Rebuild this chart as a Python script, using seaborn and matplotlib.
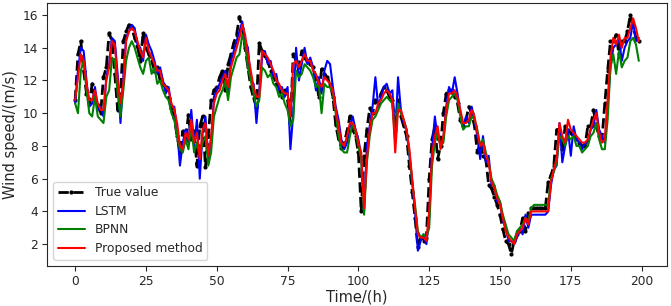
import matplotlib
matplotlib.use("Agg")
import matplotlib.pyplot as plt
import numpy as np
import seaborn as sns

# hourly wind speed (m/s)
true_value = [
    10.8, 13.6, 14.4, 12.6, 11.2, 10.6, 11.8, 10.8, 10.5, 10.0,
    12.2, 12.8, 14.9, 14.4, 12.4, 10.2, 11.2, 14.4, 15.0, 15.4,
    15.2, 14.6, 14.1, 13.2, 14.9, 14.0, 13.6, 13.2, 12.6, 12.8,
    12.0, 11.8, 11.6, 10.9, 10.3, 9.7, 8.6, 7.6, 8.9, 8.4,
    9.9, 8.4, 8.9, 6.8, 9.2, 9.8, 6.7, 8.6, 10.8, 11.4,
    11.6, 12.2, 12.6, 11.4, 13.0, 13.6, 14.3, 14.8, 15.9, 15.2,
    14.0, 12.8, 11.6, 10.9, 10.4, 14.3, 13.8, 13.5, 13.2, 12.6,
    12.3, 11.8, 11.5, 11.0, 11.4, 10.8, 9.4, 13.6, 13.2, 12.8,
    13.8, 13.4, 13.2, 13.0, 12.8, 12.2, 11.0, 12.7, 12.4, 12.2,
    11.8, 11.0, 9.3, 8.4, 7.9, 8.2, 8.9, 9.8, 9.0, 8.6,
    7.6, 4.0, 7.4, 9.0, 10.3, 10.0, 10.8, 10.6, 11.2, 11.6,
    11.4, 11.0, 10.8, 9.0, 10.8, 9.8, 9.2, 8.6, 6.8, 5.2,
    3.6, 1.8, 2.4, 2.2, 2.4, 6.0, 8.4, 9.2, 7.2, 8.0,
    10.0, 11.2, 11.4, 11.4, 11.0, 10.6, 9.6, 9.2, 9.6, 10.4,
    10.0, 9.2, 7.6, 8.2, 7.4, 7.2, 5.6, 5.4, 4.9, 4.4,
    3.8, 2.9, 2.2, 2.0, 1.4, 2.2, 2.6, 2.8, 3.6, 2.8,
    3.9, 4.2, 4.2, 4.2, 4.2, 4.2, 4.2, 5.8, 6.2, 6.8,
    9.0, 9.0, 7.8, 9.2, 9.0, 8.8, 8.6, 8.4, 8.2, 8.0,
    8.0, 9.2, 9.2, 10.2, 9.2, 8.6, 8.4, 10.6, 12.6, 14.4,
    14.4, 14.8, 13.6, 14.4, 14.4, 15.0, 16.0, 15.3, 14.6, 14.4,
]

lstm = [
    10.6, 12.6, 14.0, 13.8, 12.0, 10.4, 10.6, 11.6, 10.2, 10.4,
    9.8, 12.2, 13.0, 14.6, 14.4, 12.4, 9.4, 12.2, 14.6, 15.0,
    15.4, 15.2, 14.2, 14.0, 13.2, 14.8, 14.2, 13.8, 13.2, 12.4,
    12.8, 12.0, 11.2, 11.6, 10.4, 10.4, 9.0, 6.8, 8.2, 9.0,
    8.2, 10.2, 8.0, 9.6, 6.0, 8.8, 9.8, 7.2, 8.2, 11.0,
    11.4, 11.8, 12.2, 12.6, 11.2, 13.2, 13.8, 14.4, 15.0, 15.6,
    14.4, 14.0, 12.0, 11.8, 9.4, 11.4, 13.4, 13.8, 13.0, 13.2,
    12.2, 12.4, 11.4, 11.6, 11.0, 11.6, 7.8, 10.0, 14.0, 12.0,
    13.0, 14.0, 13.0, 13.4, 12.8, 11.4, 12.2, 11.2, 12.6, 13.2,
    13.0, 11.6, 10.4, 9.6, 8.4, 7.8, 8.2, 9.2, 9.8, 9.0,
    8.4, 7.4, 4.0, 8.0, 9.2, 10.4, 12.2, 10.4, 11.0, 11.6,
    11.8, 11.2, 11.4, 8.6, 12.2, 10.2, 9.4, 9.0, 7.4, 5.8,
    4.0, 1.6, 2.2, 2.6, 2.0, 3.6, 7.8, 9.8, 8.4, 8.2,
    8.4, 10.4, 11.6, 11.2, 12.2, 11.2, 10.0, 9.2, 9.8, 9.4,
    10.4, 9.6, 8.6, 7.2, 8.6, 7.0, 7.4, 5.6, 5.6, 4.6,
    4.6, 3.4, 3.0, 2.2, 2.2, 2.0, 2.4, 3.0, 2.6, 3.8,
    3.0, 3.8, 3.8, 3.8, 3.8, 3.8, 3.8, 4.0, 5.6, 6.6,
    6.8, 9.4, 7.0, 8.0, 9.0, 7.4, 9.2, 8.4, 8.2, 7.8,
    8.2, 8.2, 9.0, 9.2, 10.2, 9.0, 8.6, 8.2, 10.4, 12.8,
    14.0, 14.2, 14.6, 13.2, 14.0, 14.4, 14.6, 15.6, 14.4, 14.6,
]

bpnn = [
    10.6, 10.0, 12.6, 13.2, 11.4, 10.0, 9.8, 11.0, 9.8, 9.6,
    9.4, 11.0, 11.4, 13.4, 13.2, 11.2, 9.8, 11.4, 13.2, 14.0,
    14.4, 14.0, 13.4, 12.8, 12.4, 13.2, 13.4, 12.4, 12.8, 11.8,
    12.0, 11.4, 11.0, 10.8, 10.0, 9.6, 8.6, 7.8, 7.6, 8.4,
    7.8, 9.2, 7.6, 8.2, 7.4, 8.2, 8.6, 6.8, 7.6, 9.8,
    10.4, 11.0, 11.4, 12.0, 10.8, 12.2, 12.8, 13.4, 13.6, 14.8,
    14.2, 12.8, 12.0, 11.2, 10.4, 10.8, 12.8, 12.6, 12.2, 12.4,
    11.8, 11.6, 11.0, 11.2, 10.6, 10.2, 9.2, 9.6, 12.6, 12.2,
    12.4, 13.0, 12.8, 12.6, 12.2, 11.6, 11.8, 10.0, 11.8, 11.6,
    11.6, 11.2, 10.0, 8.6, 7.8, 7.6, 7.6, 8.6, 9.4, 8.8,
    8.0, 7.2, 3.8, 7.0, 8.6, 9.6, 9.8, 10.2, 10.6, 10.8,
    11.0, 10.8, 10.6, 8.2, 10.6, 10.0, 9.6, 9.0, 7.6, 5.8,
    4.4, 2.8, 2.4, 2.6, 2.4, 3.0, 6.8, 8.2, 8.8, 8.0,
    8.2, 9.8, 10.8, 11.0, 11.2, 10.8, 9.8, 9.0, 9.2, 9.2,
    9.8, 9.6, 9.0, 8.0, 8.4, 7.6, 7.0, 6.0, 5.6, 5.0,
    4.6, 3.8, 3.2, 2.6, 2.4, 2.2, 2.8, 3.0, 3.2, 3.6,
    3.4, 4.2, 4.4, 4.4, 4.4, 4.4, 4.4, 4.4, 6.0, 6.4,
    7.0, 8.6, 8.4, 8.0, 8.6, 8.4, 8.6, 8.0, 8.0, 7.6,
    7.8, 8.0, 8.6, 8.8, 9.4, 8.4, 7.8, 7.8, 9.6, 12.8,
    13.6, 12.4, 13.8, 12.8, 13.2, 13.4, 14.4, 14.6, 14.2, 13.2,
]

proposed = [
    10.8, 12.2, 13.6, 13.2, 11.8, 10.8, 10.8, 11.4, 10.6, 10.2,
    10.2, 12.0, 12.8, 14.4, 14.2, 12.0, 10.6, 11.8, 14.4, 15.0,
    15.2, 15.0, 14.4, 13.8, 13.4, 14.6, 13.8, 13.4, 13.0, 12.6,
    12.6, 11.8, 11.6, 11.4, 10.6, 10.2, 9.4, 8.0, 7.8, 8.8,
    8.4, 9.6, 8.2, 8.8, 7.2, 9.0, 9.4, 7.4, 8.6, 10.6,
    11.2, 11.4, 12.0, 12.4, 11.6, 12.8, 13.4, 14.0, 14.6, 15.4,
    14.8, 13.6, 12.6, 11.6, 11.0, 11.0, 13.8, 13.6, 13.4, 13.0,
    12.6, 12.0, 11.8, 11.4, 11.2, 11.2, 9.8, 13.0, 13.2, 12.8,
    13.2, 13.6, 13.2, 13.2, 12.6, 12.4, 11.8, 11.6, 12.2, 12.0,
    11.8, 11.4, 10.2, 9.2, 8.2, 8.0, 8.6, 9.4, 9.4, 9.0,
    8.2, 7.6, 4.2, 7.2, 9.0, 10.0, 10.0, 10.6, 10.8, 11.2,
    11.4, 11.2, 10.8, 7.6, 10.2, 10.2, 9.6, 9.0, 7.8, 6.0,
    4.2, 2.6, 2.4, 2.4, 2.2, 4.0, 7.4, 8.6, 9.2, 7.8,
    8.6, 10.2, 11.2, 11.2, 11.4, 11.0, 10.2, 9.4, 9.4, 9.6,
    10.2, 9.8, 8.8, 8.0, 8.2, 7.4, 7.0, 5.8, 5.4, 4.8,
    4.4, 3.6, 2.8, 2.4, 2.2, 2.0, 2.6, 2.8, 3.0, 3.6,
    3.2, 4.0, 4.0, 4.0, 4.0, 4.0, 4.0, 4.0, 5.8, 6.6,
    7.2, 9.4, 8.6, 8.2, 9.6, 9.0, 8.8, 8.6, 8.4, 8.2,
    8.2, 8.4, 9.0, 9.6, 10.0, 8.8, 8.2, 8.4, 10.8, 13.4,
    14.6, 14.2, 14.8, 14.0, 14.6, 14.6, 15.2, 15.8, 15.2, 14.4,
]

hours = np.arange(len(true_value))


def main():
    """Draw the comparison of wind speed forecasts."""
    sns.set_style("ticks")
    plt.rcParams["font.family"] = ["DejaVu Sans"]
    fig = plt.figure(figsize=(6.71, 3.06), dpi=100)
    ax = fig.add_axes([0.070, 0.131, 0.924, 0.859])

    sns.lineplot(x=hours, y=true_value, ax=ax, color="black", lw=2,
                 linestyle="--", marker="o", markersize=3,
                 markeredgewidth=0, label="True value")
    sns.lineplot(x=hours, y=lstm, ax=ax, color="blue", lw=1.5, label="LSTM")
    sns.lineplot(x=hours, y=bpnn, ax=ax, color="green", lw=1.5, label="BPNN")
    sns.lineplot(x=hours, y=proposed, ax=ax, color="red", lw=1.5,
                 label="Proposed method")

    ax.set_xticks([0, 25, 50, 75, 100, 125, 150, 175, 200])
    ax.set_yticks([2, 4, 6, 8, 10, 12, 14, 16])
    ax.tick_params(labelsize=8.8, length=3.5, pad=3)
    ax.set_xlabel("Time/(h)", fontsize=10.5, labelpad=1)
    ax.set_ylabel("Wind speed/(m/s)", fontsize=10.5, labelpad=3)
    ax.legend(loc="lower left", fontsize=8.8, frameon=True,
              handlelength=2.2, labelspacing=0.45)
    for side in ["top", "right"]:
        ax.spines[side].set_visible(True)
    fig.savefig("out.png", dpi=100)


if __name__ == "__main__":
    main()
